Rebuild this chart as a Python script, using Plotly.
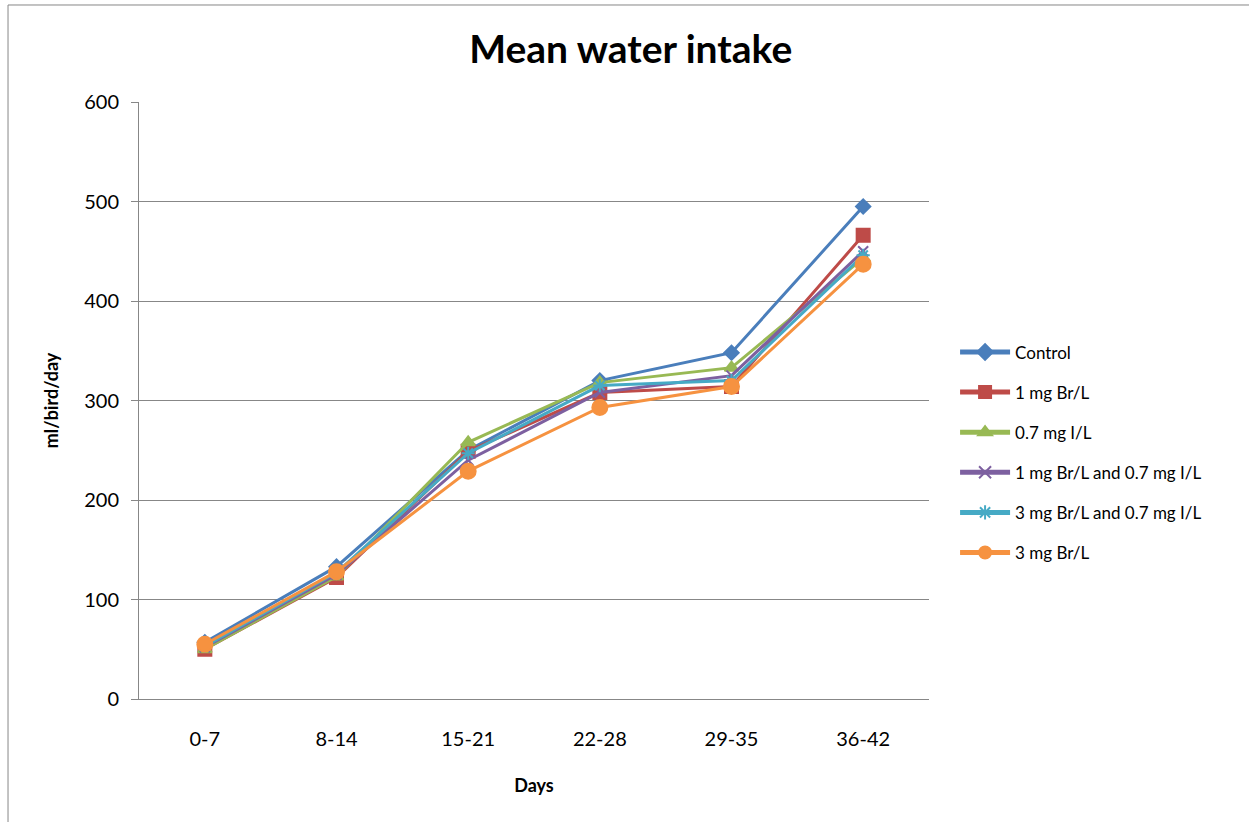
import plotly.graph_objects as go

days = ["0-7", "8-14", "15-21", "22-28", "29-35", "36-42"]
control = [57, 133, 250, 320, 348, 495]
br1 = [50, 122, 249, 308, 314, 466]
i07 = [50, 123, 258, 318, 333, 443]
br1_i07 = [52, 125, 240, 308, 325, 450]
br3_i07 = [53, 127, 247, 315, 320, 446]
br3 = [55, 128, 229, 293, 314, 437]

series = [
    ("Control", control, "#4A7EBB", "diamond", 11),
    ("1 mg Br/L", br1, "#BE4B48", "square", 13),
    ("0.7 mg I/L", i07, "#98B954", "triangle-up", 12),
    ("1 mg Br/L and 0.7 mg I/L", br1_i07, "#7D60A0", "x-thin", 10),
    ("3 mg Br/L and 0.7 mg I/L", br3_i07, "#46AAC5", "asterisk", 11),
    ("3 mg Br/L", br3, "#F69240", "circle", 15),
]

fig = go.Figure()
for i, (name, vals, col, sym, sz) in enumerate(series):
    fig.add_trace(go.Scatter(
        x=days, y=vals, name=name, mode="lines+markers",
        legendgroup=f"g{i}",
        line=dict(color=col, width=3),
        marker=dict(symbol=sym, size=sz, color=col,
                    line=dict(color=col, width=2)),
    ))

font = "Lato, 'Open Sans', sans-serif"
fig.update_layout(
    width=1249, height=822,
    margin=dict(l=139, r=320, t=102, b=123),
    paper_bgcolor="white", plot_bgcolor="white",
    font=dict(family=font, color="black", size=17),
    title=dict(text="<b>Mean water intake</b>", x=0.505, xanchor="center",
               xref="container", y=0.94, yref="container", yanchor="middle",
               font=dict(size=39, family=font)),
    showlegend=True,
    legend=dict(x=1.033, y=0.413, xanchor="left", yanchor="middle",
                font=dict(size=17, family=font), tracegroupgap=15,
                itemsizing="constant", itemwidth=50),
    xaxis=dict(
        title=dict(text="<b>Days</b>", font=dict(size=18), standoff=30),
        range=[-0.5, 5.5],
        showline=True, linecolor="#878787", linewidth=1,
        ticks="", ticklabelstandoff=22,
        tickfont=dict(size=20), showgrid=False,
    ),
    yaxis=dict(
        title=dict(text="<b>ml/bird/day</b>", font=dict(size=18), standoff=20),
        range=[0, 600], dtick=100,
        showline=True, linecolor="#878787", linewidth=1,
        ticks="outside", tickcolor="#878787", ticklen=7,
        ticklabelstandoff=8,
        tickfont=dict(size=20),
        showgrid=True, gridcolor="#878787", gridwidth=1,
        zeroline=False,
    ),
)

fig.add_shape(type="rect", xref="paper", yref="paper",
              x0=-0.1658, y0=-0.3, x1=1.5, y1=1.1625,
              line=dict(color="#878787", width=1), fillcolor="rgba(0,0,0,0)",
              layer="below")

fig.write_html("out.html")
